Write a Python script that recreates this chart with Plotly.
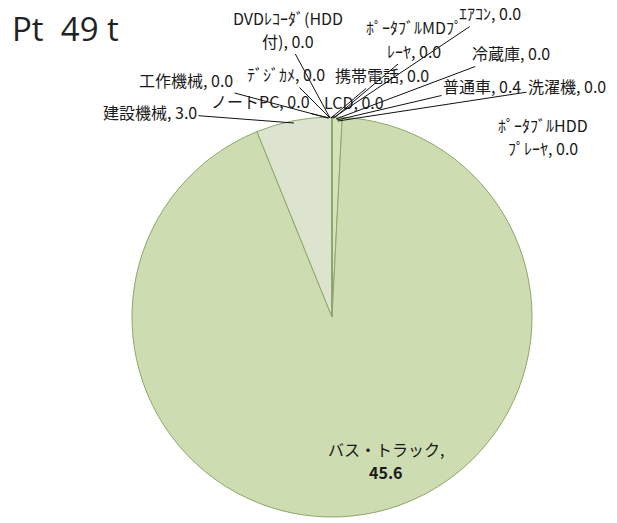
import plotly.graph_objects as go

# Platinum use by product (t), clockwise from 12 o'clock
categories = [
    "普通車", "バス・トラック", "建設機械", "工作機械", "ノートPC",
    "携帯電話", "ﾃﾞｼﾞｶﾒ", "LCD", "DVDﾚｺｰﾀﾞ(HDD付)", "ｴｱｺﾝ",
    "ﾎﾟｰﾀﾌﾞﾙMDﾌﾟﾚｰﾔ", "冷蔵庫", "洗濯機", "ﾎﾟｰﾀﾌﾞﾙHDDﾌﾟﾚｰﾔ",
]
values = [0.4, 45.6, 3.0, 0.0, 0.0, 0.0, 0.0, 0.0, 0.0, 0.0, 0.0, 0.0, 0.0, 0.0]
slice_colors = [
    "#d3e4b8", "#cedcb1", "#dce4d0", "#cedcb1", "#cedcb1",
    "#cedcb1", "#cedcb1", "#cedcb1", "#cedcb1", "#cedcb1",
    "#cedcb1", "#cedcb1", "#cedcb1", "#cedcb1",
]
title_text = "Pt  49 t"

W, H = 617, 523
JP_FONT = "Noto Sans CJK JP"
LABEL_SIZE = 16
LINE_H = 23  # vertical spacing between the lines of a wrapped label


def px(x):
    return x / W


def py(y):
    return 1 - y / H


fig = go.Figure()
fig.add_trace(go.Pie(
    labels=categories,
    values=values,
    sort=False,
    direction="clockwise",
    rotation=0,
    textinfo="none",
    hoverinfo="label+value",
    marker=dict(colors=slice_colors, line=dict(color="#8ea66a", width=1)),
    showlegend=False,
    domain=dict(x=[px(132), px(532)], y=[py(517), py(117)]),
))

# label placement: (text center x, y, two-line, leader target or None)
label_layout = {
    "普通車": (482, 86, False, (337, 120)),
    "バス・トラック": (386, 460, True, None),
    "建設機械": (150, 112, False, (294, 123)),
    "工作機械": (186, 80, False, (328, 118)),
    "ノートPC": (260, 101, False, (329, 118)),
    "携帯電話": (382, 75, False, (331, 118)),
    "ﾃﾞｼﾞｶﾒ": (286, 74, False, (330, 118)),
    "LCD": (354, 102, False, (331, 118)),
    "DVDﾚｺｰﾀﾞ(HDD付)": (288, 29, True, (330, 118)),
    "ｴｱｺﾝ": (490, 13, False, (333, 118)),
    "ﾎﾟｰﾀﾌﾞﾙMDﾌﾟﾚｰﾔ": (414, 39, True, (334, 118)),
    "冷蔵庫": (511, 53, False, (336, 119)),
    "洗濯機": (567, 86, False, (338, 121)),
    "ﾎﾟｰﾀﾌﾞﾙHDDﾌﾟﾚｰﾔ": (543, 137, True, None),
}

# where long names break onto a second line
wrap_at = {
    "DVDﾚｺｰﾀﾞ(HDD付)": 12,
    "ﾎﾟｰﾀﾌﾞﾙMDﾌﾟﾚｰﾔ": 11,
    "ﾎﾟｰﾀﾌﾞﾙHDDﾌﾟﾚｰﾔ": 10,
}

font = dict(family=JP_FONT, size=LABEL_SIZE, color="#1a1a1a")

for name, val in zip(categories, values):
    cx, cy, two_lines, target = label_layout[name]
    if name in wrap_at:
        k = wrap_at[name]
        lines = [name[:k], f"{name[k:]}, {val:.1f}"]
    elif name == "バス・トラック":
        lines = [f"{name},", f"<b>{val:.1f}</b>"]
    elif two_lines:
        lines = [f"{name},", f"{val:.1f}"]
    else:
        lines = [f"{name}, {val:.1f}"]

    n = len(lines)
    for i, line in enumerate(lines):
        ly = cy + (i - (n - 1) / 2) * LINE_H
        # the leader line leaves from the last line of the label
        if target is not None and i == n - 1:
            tx, ty = target
            fig.add_annotation(
                x=px(tx), y=py(ty), xref="paper", yref="paper",
                ax=cx - tx, ay=ly - ty, axref="pixel", ayref="pixel",
                text=line, showarrow=True, arrowhead=0, arrowwidth=1,
                arrowcolor="#111111", standoff=0, startstandoff=0,
                font=font, align="center",
            )
        else:
            fig.add_annotation(
                x=px(cx), y=py(ly), xref="paper", yref="paper",
                xanchor="center", yanchor="middle",
                text=line, showarrow=False, font=font, align="center",
            )

fig.add_annotation(
    x=px(10), y=py(29), xref="paper", yref="paper",
    xanchor="left", yanchor="middle",
    text=title_text, showarrow=False,
    font=dict(family="Open Sans", size=33, color="#222222"),
)

fig.update_layout(
    width=W, height=H,
    margin=dict(l=0, r=0, t=0, b=0),
    paper_bgcolor="white",
    plot_bgcolor="white",
)

fig.write_html("out.html")
